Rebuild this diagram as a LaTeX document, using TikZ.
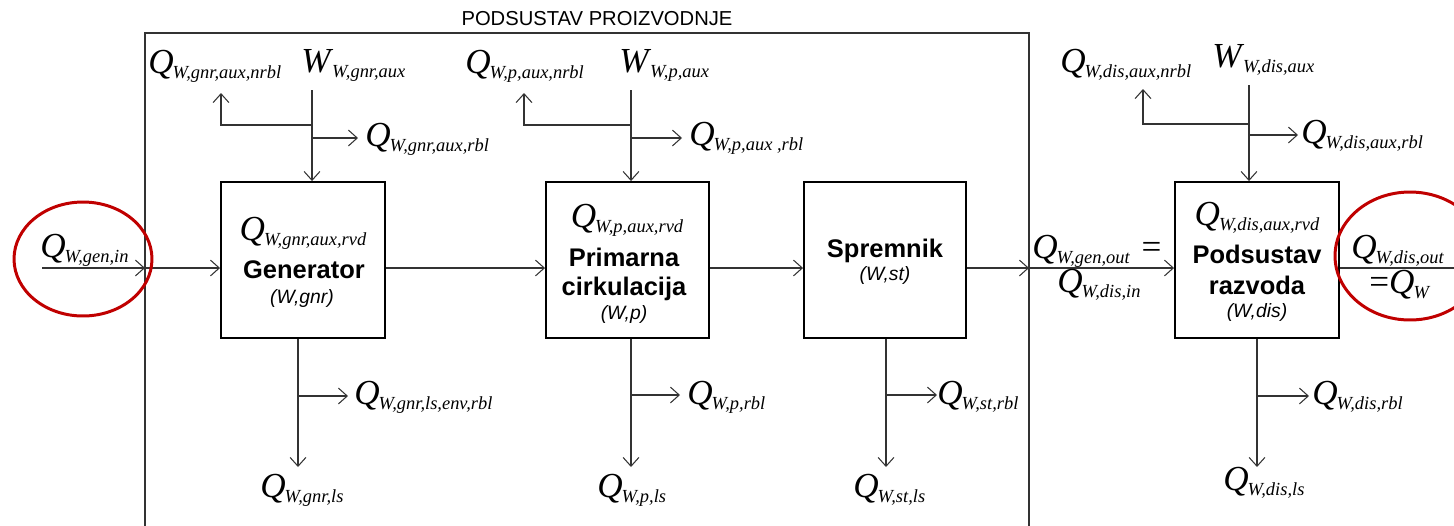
\documentclass[tikz,border=0pt]{standalone}
\usepackage{fontspec}
\setmainfont{Liberation Serif}
\setsansfont{Liberation Sans}
\usetikzlibrary{arrows.meta}
\definecolor{ringred}{HTML}{C00000}
\definecolor{linegray}{HTML}{333333}
\newcommand\QS[2]{\textit{#1}\kern-0.6pt\raisebox{-3pt}{\fontsize{10.5}{12}\selectfont\itshape #2}}
\begin{document}
\begin{tikzpicture}[x=0.02cm,y=-0.02cm,
  flow/.style={draw=linegray, line width=0.6pt, -{Straight Barb[length=5pt,width=9pt]}},
  plain/.style={draw=linegray, line width=0.6pt},
  frame/.style={draw=linegray, line width=0.6pt},
  blk/.style={draw=black, line width=1.1pt, minimum height=3.12cm, inner sep=0pt},
  lab/.style={inner sep=0pt, anchor=base west, font=\fontsize{20}{23}\selectfont},
  clab/.style={inner sep=0pt, anchor=base, font=\fontsize{20}{23}\selectfont},
  sfb/.style={inner sep=0pt, anchor=base, font=\sffamily\bfseries\fontsize{14.5}{17}\selectfont},
  sfi/.style={inner sep=0pt, anchor=base, font=\sffamily\itshape\fontsize{11}{13}\selectfont},
  ttl/.style={inner sep=0pt, anchor=base, font=\sffamily\fontsize{11.5}{14}\selectfont},
  ring/.style={draw=ringred, line width=1.7pt}]
\useasboundingbox (0,0) rectangle (1454,525);

% frame of the production subsystem
\draw[frame] (145,540) -- (145,33) -- (1029,33) -- (1029,540);
\node[ttl] (title) at (597,25) {PODSUSTAV PROIZVODNJE};

% blocks
\node[blk, minimum width=3.28cm] (gen) at (303,260) {};
\node[blk, minimum width=3.26cm] (prim) at (627.5,260) {};
\node[blk, minimum width=3.24cm] (sprem) at (885,260) {};
\node[blk, minimum width=3.28cm] (dis) at (1257,260) {};

% block texts
\node[clab] (genq) at (303,240) {\QS{Q}{W,gnr,aux,rvd}};
\node[sfb] (genn) at (304,278) {Generator};
\node[sfi] (geni) at (302,303) {(W,gnr)};
\node[clab] (primq) at (627,227) {\QS{Q}{W,p,aux,rvd}};
\node[sfb] (primn1) at (624,266) {Primarna};
\node[sfb] (primn2) at (624,295) {cirkulacija};
\node[sfi] (primi) at (624,319) {(W,p)};
\node[sfb] (spremn) at (885,257) {Spremnik};
\node[sfi] (spremi) at (885,280) {(W,st)};
\node[clab] (disq) at (1257,225) {\QS{Q}{W,dis,aux,rvd}};
\node[sfb] (disn1) at (1257,263) {Podsustav};
\node[sfb] (disn2) at (1257,294) {razvoda};
\node[sfi] (disi) at (1257,317) {(W,dis)};

% main horizontal flow
\coordinate (in0) at (42,268);
\coordinate (fL) at (145,268);
\coordinate (fR) at (1029,268);
\coordinate (outR) at (1460,268);
\draw[flow] (in0) -- (fL);
\draw[flow] (fL) -- (fL -| gen.west);
\draw[flow] (gen.east |- fL) -- (prim.west |- fL);
\draw[flow] (prim.east |- fL) -- (sprem.west |- fL);
\draw[flow] (sprem.east |- fL) -- (fR);
\draw[flow] (fR) -- (dis.west |- fR);
\draw[plain] (dis.east |- fR) -- (outR);

\node[lab] (qin) at (40,257) {\QS{Q}{W,gen,in}};
\node[lab] (qgo) at (1032,258) {\QS{Q}{W,gen,out}\,\,=};
\node[lab] (qdi) at (1057,292) {\QS{Q}{W,dis,in}};
\node[lab] (qdo) at (1351,258) {\QS{Q}{W,dis,out}};
\node[lab] (qw) at (1369,293) {=\QS{Q}{W}};

% highlight rings
\coordinate (ringL) at (83,259);
\coordinate (ringR) at (1410,256);
\draw[ring] (ringL) ellipse [x radius=1.38cm, y radius=1.14cm];
\draw[ring] (ringR) ellipse [x radius=1.5cm, y radius=1.28cm];

% generator auxiliaries (top)
\coordinate (gT) at (312,90);
\coordinate (gB1) at (312,125);
\coordinate (gB2) at (312,138);
\coordinate (gL) at (221,125);
\coordinate (gLt) at (221,93);
\coordinate (gRt) at (358,138);
\draw[flow] (gT) -- (gT |- gen.north);
\draw[flow] (gB1) -- (gL) -- (gLt);
\draw[flow] (gB2) -- (gRt);
\node[lab] (gq1) at (148,73) {\QS{Q}{W,gnr,aux,nrbl}};
\node[lab] (gw) at (301,72) {\QS{W}{W,gnr,aux}};
\node[lab] (gq2) at (365,146) {\QS{Q}{W,gnr,aux,rbl}};

% primary circulation auxiliaries (top)
\coordinate (pT) at (631,90);
\coordinate (pB1) at (631,125);
\coordinate (pB2) at (631,138);
\coordinate (pL) at (524,125);
\coordinate (pLt) at (524,93);
\coordinate (pRt) at (682,138);
\draw[flow] (pT) -- (pT |- prim.north);
\draw[flow] (pB1) -- (pL) -- (pLt);
\draw[flow] (pB2) -- (pRt);
\node[lab] (pq1) at (465,73) {\QS{Q}{W,p,aux,nrbl}};
\node[lab] (pw) at (619,72) {\QS{W}{W,p,aux}};
\node[lab] (pq2) at (689,145) {\QS{Q}{W,p,aux ,rbl}};

% distribution auxiliaries (top)
\coordinate (dT) at (1249,85);
\coordinate (dB1) at (1249,124);
\coordinate (dB2) at (1249,135);
\coordinate (dL) at (1143,124);
\coordinate (dLt) at (1143,89);
\coordinate (dRt) at (1298,135);
\draw[flow] (dT) -- (dT |- dis.north);
\draw[flow] (dB1) -- (dL) -- (dLt);
\draw[flow] (dB2) -- (dRt);
\node[lab] (dq1) at (1060,72) {\QS{Q}{W,dis,aux,nrbl}};
\node[lab] (dw) at (1212,67) {\QS{W}{W,dis,aux}};
\node[lab] (dq2) at (1301,143) {\QS{Q}{W,dis,aux,rbl}};

% losses (bottom)
\coordinate (gD) at (298,467);
\coordinate (gDb) at (298,396);
\coordinate (gDr) at (348,396);
\draw[flow] (gen.south -| gD) -- (gD);
\draw[flow] (gDb) -- (gDr);
\node[lab] (gl1) at (354,404) {\QS{Q}{W,gnr,ls,env,rbl}};
\node[lab] (gl2) at (260,497) {\QS{Q}{W,gnr,ls}};

\coordinate (pD) at (631,467);
\coordinate (pDb) at (631,395);
\coordinate (pDr) at (680,395);
\draw[flow] (prim.south -| pD) -- (pD);
\draw[flow] (pDb) -- (pDr);
\node[lab] (pl1) at (687,404) {\QS{Q}{W,p,rbl}};
\node[lab] (pl2) at (597,497) {\QS{Q}{W,p,ls}};

\coordinate (sD) at (886,467);
\coordinate (sDb) at (886,395);
\coordinate (sDr) at (937,395);
\draw[flow] (sprem.south -| sD) -- (sD);
\draw[flow] (sDb) -- (sDr);
\node[lab] (sl1) at (937,404) {\QS{Q}{W,st,rbl}};
\node[lab] (sl2) at (853,497) {\QS{Q}{W,st,ls}};

\coordinate (dD) at (1257,467);
\coordinate (dDb) at (1257,396);
\coordinate (dDr) at (1309,396);
\draw[flow] (dis.south -| dD) -- (dD);
\draw[flow] (dDb) -- (dDr);
\node[lab] (dl1) at (1312,404) {\QS{Q}{W,dis,rbl}};
\node[lab] (dl2) at (1223,490) {\QS{Q}{W,dis,ls}};
\end{tikzpicture}
\end{document}
